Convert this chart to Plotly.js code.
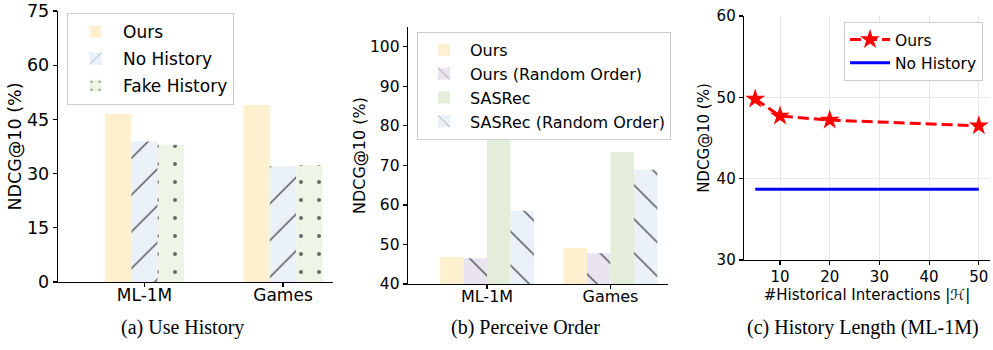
<!DOCTYPE html>
<html><head><meta charset="utf-8">
<script src="https://cdn.plot.ly/plotly-3.0.1.min.js"></script>
<style>html,body{margin:0;padding:0;background:#fff}#chart{width:993px;height:350px}</style>
</head><body><div id="chart"></div>
<script>
// ---------- data ----------
const datasets = ['ML-1M', 'Games'];
// (a) Use History
const aOurs = [46.5, 49.0];
const aNoHistory = [38.9, 32.0];
const aFakeHistory = [38.0, 32.3];
// (b) Perceive Order
const bOurs = [46.8, 49.1];
const bOursRandom = [46.5, 47.8];
const bSASRec = [76.5, 73.4];
const bSASRecRandom = [58.5, 68.9];
// (c) History Length (ML-1M)
const cHistoryLen = [5, 10, 20, 50];
const cOurs = [49.8, 47.7, 47.2, 46.5];
const cNoHistory = [38.7, 38.7, 38.7, 38.7];
const captions = ['(a) Use History', '(b) Perceive Order', '(c) History Length (ML-1M)'];

// ---------- helpers ----------
const W = 993, H = 350;
const px = v => v / W, py = v => 1 - v / H;
const FONT = 'DejaVu Sans, sans-serif';
const BW = 0.19;
function bar(name, y, color, xa, ya, i, n, legend, pattern) {
  const t = {
    type: 'bar', name: name, x: datasets, y: y, xaxis: xa, yaxis: ya,
    width: BW, offset: -n * BW / 2 + i * BW, legend: legend, legendgroup: legend + i,
    marker: {color: color, line: {width: 0}}
  };
  if (pattern) t.marker.pattern = Object.assign({bgcolor: color}, pattern);
  return t;
}
const hatchFwd = {shape: '/', fgcolor: '#444444', size: 26, solidity: 0.05};
const hatchBack = {shape: '\\', fgcolor: '#444444', size: 24, solidity: 0.055};
const dots = {shape: '.', fgcolor: '#6a6a6a', size: 18, solidity: 0.04};

const traces = [
  bar('Ours', aOurs, '#fcf0cf', 'x', 'y', 0, 3, 'legend'),
  bar('No History', aNoHistory, '#eaf1f9', 'x', 'y', 1, 3, 'legend', hatchFwd),
  bar('Fake History', aFakeHistory, '#eef4e6', 'x', 'y', 2, 3, 'legend', dots),
  bar('Ours', bOurs, '#fcf0cf', 'x2', 'y2', 0, 4, 'legend2'),
  bar('Ours (Random Order)', bOursRandom, '#eae4f1', 'x2', 'y2', 1, 4, 'legend2', hatchBack),
  bar('SASRec', bSASRec, '#e3edd9', 'x2', 'y2', 2, 4, 'legend2'),
  bar('SASRec (Random Order)', bSASRecRandom, '#eaf1f9', 'x2', 'y2', 3, 4, 'legend2', hatchBack),
  {type: 'scatter', mode: 'lines+markers', name: 'Ours', x: cHistoryLen, y: cOurs,
   xaxis: 'x3', yaxis: 'y3', legend: 'legend3',
   line: {color: '#ff0000', width: 3, dash: '11px,5px'},
   marker: {symbol: 'star', size: 15, color: '#ff0000'}},
  {type: 'scatter', mode: 'lines', name: 'No History', x: cHistoryLen, y: cNoHistory,
   xaxis: 'x3', yaxis: 'y3', legend: 'legend3',
   line: {color: '#0000ff', width: 3}}
];

const axBase = {showline: true, linecolor: '#000', linewidth: 1.3, ticks: 'outside',
  ticklen: 4, tickwidth: 1.2, tickcolor: '#000', zeroline: false, showgrid: false,
  mirror: false, fixedrange: true, ticklabeloverflow: 'allow'};
const legendBase = {bgcolor: '#ffffff', bordercolor: '#cccccc', borderwidth: 1,
  xanchor: 'left', yanchor: 'top', itemwidth: 30};

const layout = {
  width: W, height: H, margin: {l: 0, r: 0, t: 0, b: 0},
  paper_bgcolor: '#fff', plot_bgcolor: 'rgba(0,0,0,0)',
  font: {family: FONT, color: '#000'},
  barmode: 'overlay', showlegend: true,
  xaxis: Object.assign({}, axBase, {domain: [px(58), px(333)], anchor: 'y', type: 'category',
    range: [-0.625, 1.361], tickfont: {size: 17}, ticklabelstandoff: -7}),
  yaxis: Object.assign({}, axBase, {domain: [py(282), py(11)], anchor: 'x', range: [0, 75],
    tickvals: [0, 15, 30, 45, 60, 75], tickfont: {size: 17.5},
    title: {text: 'NDCG@10 (%)', font: {size: 17.5}, standoff: 0}}),
  xaxis2: Object.assign({}, axBase, {domain: [px(408), px(668)], anchor: 'y2', type: 'category',
    range: [-0.64, 1.466], tickfont: {size: 16}, ticklabelstandoff: -7}),
  yaxis2: Object.assign({}, axBase, {domain: [py(284), py(27)], anchor: 'x2', range: [40, 105],
    tickvals: [40, 50, 60, 70, 80, 90, 100], tickfont: {size: 15.5},
    title: {text: 'NDCG@10 (%)', font: {size: 16}, standoff: 0}}),
  xaxis3: Object.assign({}, axBase, {domain: [px(744), px(990)], anchor: 'y3',
    range: [2.75, 52.25], tickvals: [10, 20, 30, 40, 50], tickfont: {size: 15},
    ticklabelstandoff: -1,
    showgrid: true, gridcolor: '#e6e6e6', gridwidth: 1,
    title: {text: '#Historical Interactions |ℋ|', font: {size: 15}, standoff: 0}}),
  yaxis3: Object.assign({}, axBase, {domain: [py(260), py(16)], anchor: 'x3', range: [30, 60],
    tickvals: [30, 40, 50, 60], tickfont: {size: 15},
    showgrid: true, gridcolor: '#e6e6e6', gridwidth: 1,
    title: {text: 'NDCG@10 (%)', font: {size: 15}, standoff: 3}}),
  legend: Object.assign({}, legendBase, {x: px(67), y: py(13), font: {size: 17},
    itemwidth: 45, tracegroupgap: 2}),
  legend2: Object.assign({}, legendBase, {x: px(417), y: py(32), font: {size: 16},
    itemwidth: 42, tracegroupgap: 0}),
  legend3: Object.assign({}, legendBase, {x: px(844), y: py(22), font: {size: 15.5},
    itemwidth: 40, tracegroupgap: 0}),
  annotations: captions.map((c, i) => ({
    text: c, xref: 'paper', yref: 'paper', showarrow: false,
    x: px([182, 525, 863][i]), y: py(327), xanchor: 'center', yanchor: 'middle',
    font: {family: 'Liberation Serif, Times New Roman, serif', size: 20, color: '#000'}
  }))
};

Plotly.newPlot('chart', traces, layout, {staticPlot: true, displayModeBar: false});
</script>
</body></html>
